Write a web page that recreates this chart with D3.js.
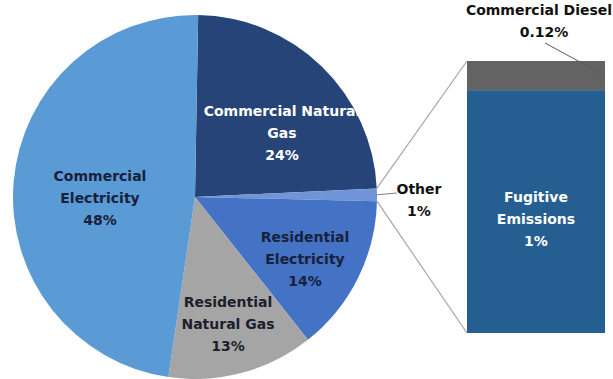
<!DOCTYPE html>
<html>
<head>
<meta charset="utf-8">
<script src="https://cdn.jsdelivr.net/npm/d3@7"></script>
<style>
  html, body { margin: 0; padding: 0; background: #ffffff; }
  svg { display: block; }
  text { font-family: "DejaVu Sans", sans-serif; font-weight: bold; font-size: 14px; }
</style>
</head>
<body>
<svg id="chart" width="613" height="379"></svg>
<script>
// Emissions share by source (percent)
const categories = ["Commercial Natural Gas", "Other", "Residential Electricity", "Residential Natural Gas", "Commercial Electricity"];
const pieValues = [24, null, 14, 13, 48]; // "Other" is the sum of the breakdown below

// Breakdown of "Other"
const otherCategories = ["Fugitive Emissions", "Commercial Diesel"];
const otherValues = [1, 0.12];

const labelLines = {
  "Commercial Natural Gas": ["Commercial Natural", "Gas"],
  "Other": ["Other"],
  "Residential Electricity": ["Residential", "Electricity"],
  "Residential Natural Gas": ["Residential", "Natural Gas"],
  "Commercial Electricity": ["Commercial", "Electricity"],
  "Fugitive Emissions": ["Fugitive", "Emissions"],
  "Commercial Diesel": ["Commercial Diesel"]
};

const colors = {
  "Commercial Natural Gas": "#264478",
  "Other": "#6f95d6",
  "Residential Electricity": "#4472c4",
  "Residential Natural Gas": "#a5a5a5",
  "Commercial Electricity": "#5b9bd5",
  "Fugitive Emissions": "#255e91",
  "Commercial Diesel": "#636363"
};
const textColors = {
  "Commercial Natural Gas": "#ffffff",
  "Residential Electricity": "#18213b",
  "Residential Natural Gas": "#1c1f2b",
  "Commercial Electricity": "#18213b"
};

const otherTotal = d3.sum(otherValues);
const data = categories.map((c, i) => ({ name: c, value: c === "Other" ? otherTotal : pieValues[i] }));
const fmt = v => d3.format(".0f")(v) + "%";

const svg = d3.select("#chart");
const cx = 195, cy = 197, r = 182;
const a0 = 1 * Math.PI / 180;

const pie = d3.pie().sort(null).value(d => d.value).startAngle(a0).endAngle(a0 + 2 * Math.PI);
const arcs = pie(data);
const arc = d3.arc().innerRadius(0).outerRadius(r);

const g = svg.append("g").attr("transform", `translate(${cx},${cy})`);
g.selectAll("path.slice")
  .data(arcs)
  .join("path")
  .attr("class", "slice")
  .attr("d", arc)
  .attr("fill", d => colors[d.data.name]);

// point on the rim at a given angle (in page coordinates)
const rim = (ang, rad = r) => [cx + rad * Math.sin(ang), cy - rad * Math.cos(ang)];

// text blocks inside the slices: offset of the block centre from the pie centre
const blockOffset = {
  "Commercial Natural Gas": [87, -64],
  "Residential Electricity": [110, 62],
  "Residential Natural Gas": [33, 127],
  "Commercial Electricity": [-95, 1]
};
const lineGap = 22;

function drawBlock(parent, x, y, lines, fill) {
  const t = parent.append("text")
    .attr("text-anchor", "middle")
    .attr("fill", fill);
  const n = lines.length;
  lines.forEach((s, i) => {
    t.append("tspan")
      .attr("x", x)
      .attr("y", y + (i - (n - 1) / 2) * lineGap)
      .attr("dy", "0.36em")
      .text(s);
  });
  return t;
}

arcs.filter(d => blockOffset[d.data.name]).forEach(d => {
  const [dx, dy] = blockOffset[d.data.name];
  drawBlock(svg, cx + dx, cy + dy, [...labelLines[d.data.name], fmt(d.data.value)], textColors[d.data.name]);
});

// stacked bar for the breakdown of "Other"
const barX0 = 467, barX1 = 605, barTop = 61, barBottom = 333;
const y = d3.scaleLinear().domain([0, otherTotal]).range([barBottom, barTop]);
const stacked = d3.stack().keys(otherCategories)([Object.fromEntries(otherCategories.map((c, i) => [c, otherValues[i]]))]);

svg.append("g").selectAll("rect")
  .data(stacked)
  .join("rect")
  .attr("x", barX0)
  .attr("width", barX1 - barX0)
  .attr("y", s => y(s[0][1]))
  .attr("height", s => y(s[0][0]) - y(s[0][1]))
  .attr("fill", s => colors[s.key]);

// connector lines from the "Other" slice to the bar
const otherArc = arcs.find(d => d.data.name === "Other");
const pTop = rim(otherArc.startAngle);
const pBot = rim(otherArc.endAngle);
const lineColor = "#a6a6a6";
svg.append("line").attr("x1", pTop[0]).attr("y1", pTop[1]).attr("x2", barX0).attr("y2", barTop)
  .attr("stroke", lineColor).attr("stroke-width", 1.2);
svg.append("line").attr("x1", pBot[0]).attr("y1", pBot[1]).attr("x2", barX0).attr("y2", barBottom)
  .attr("stroke", lineColor).attr("stroke-width", 1.2);

// "Other" label with leader
const midOther = (otherArc.startAngle + otherArc.endAngle) / 2;
const pMid = rim(midOther);
svg.append("path")
  .attr("d", d3.line()([pMid, [388, pMid[1] - 1], [397, 193]]))
  .attr("fill", "none").attr("stroke", "#7f7f7f").attr("stroke-width", 1);
drawBlock(svg, 419, 200, ["Other", fmt(otherTotal)], "#111111");

// labels for the bar segments
drawBlock(svg, (barX0 + barX1) / 2, 219, [...labelLines["Fugitive Emissions"], fmt(otherValues[0])], "#ffffff");

const dsl = stacked[1][0];
const dieselMidY = (y(dsl[0]) + y(dsl[1])) / 2;
const dslLabel = drawBlock(svg, 539, 21, [...labelLines["Commercial Diesel"], d3.format(".2f")(otherValues[1]) + "%"], "#111111");
dslLabel.select("tspan:last-child").attr("x", 544);
svg.append("line").attr("x1", 545).attr("y1", 43).attr("x2", barX1).attr("y2", dieselMidY)
  .attr("stroke", "#595959").attr("stroke-width", 1);
</script>
</body>
</html>
